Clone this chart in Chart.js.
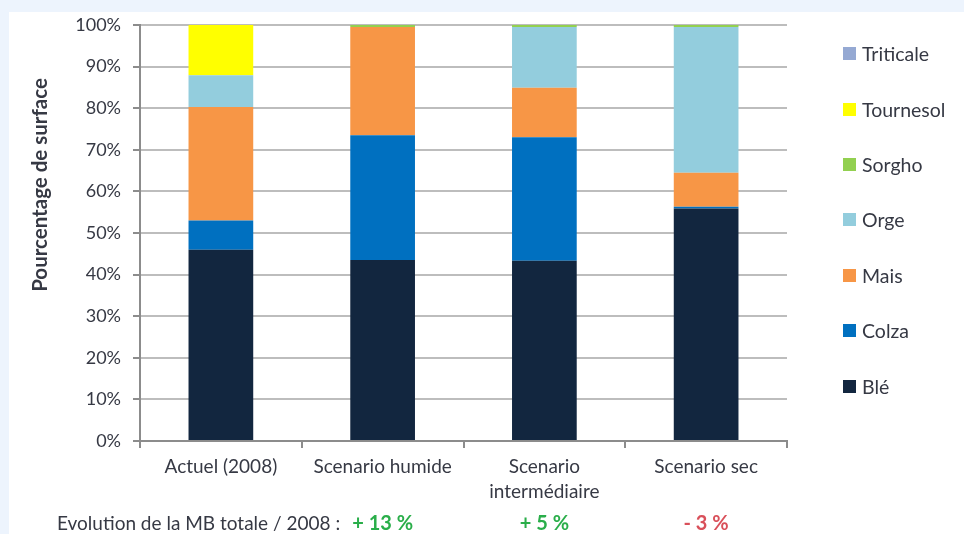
<!DOCTYPE html>
<html>
<head>
<meta charset="utf-8">
<script src="https://cdn.jsdelivr.net/npm/chart.js@4.4.0/dist/chart.umd.min.js"></script>
<style>
  body { margin: 0; background: #edf4fd; width: 964px; height: 534px; overflow: hidden; font-family: Lato, sans-serif; }
  #panel { position: absolute; left: 9px; top: 12px; width: 955px; height: 522px; background: #fff; }
  #myChart { position: absolute; left: 0; top: 0; }
  #legend { position: absolute; left: 834px; top: 14px; color: #363944; font-size: 19.5px; }
  #legend div { height: 55.4px; display: flex; align-items: center; }
  #legend span { display: inline-block; width: 13px; height: 13px; margin-right: 6px; }
</style>
</head>
<body>
<div id="panel">
  <canvas id="myChart" width="955" height="522"></canvas>
  <div id="legend"></div>
</div>
<script>
var categories = ['Actuel (2008)', 'Scenario humide', ['Scenario', 'intermédiaire'], 'Scenario sec'];

// percentage of surface per crop, one value per scenario
var ble       = [46.0, 43.5, 43.3, 55.9];
var colza     = [7.0, 30.0, 29.7, 0.4];
var mais      = [27.3, 26.0, 11.9, 8.2];
var orge      = [7.6, 0, 14.6, 35.0];
var sorgho    = [0, 0.5, 0.5, 0.5];
var tournesol = [12.1, 0, 0, 0];
var triticale = [0, 0, 0, 0];

var yTicks = [0, 10, 20, 30, 40, 50, 60, 70, 80, 90, 100];
var evolution = ['', '+ 13 %', '+ 5 %', '- 3 %'];
var evolutionColors = ['', '#2aae4a', '#2aae4a', '#d9505a'];

var textColor = '#363944';
var axisColor = '#8c8c8c';

// y title + MB evolution line under the chart
var extraText = {
  id: 'extraText',
  afterDraw: function(chart) {
    var c = chart.ctx;
    c.save();
    c.fillStyle = textColor;
    c.font = 'bold 20.5px Lato';
    c.translate(31, 173);
    c.rotate(-Math.PI / 2);
    c.textAlign = 'center';
    c.textBaseline = 'middle';
    c.fillText('Pourcentage de surface', 0, 0);
    c.restore();

    c.save();
    c.textBaseline = 'middle';
    c.font = '19px Lato';
    c.fillStyle = textColor;
    c.textAlign = 'left';
    c.fillText('Evolution de la MB totale / 2008 :', 48, 512);
    c.font = 'bold 20px Lato';
    c.textAlign = 'center';
    var xs = chart.scales.x;
    for (var i = 0; i < evolution.length; i++) {
      if (!evolution[i]) continue;
      c.fillStyle = evolutionColors[i];
      c.fillText(evolution[i], xs.getPixelForValue(i), 512);
    }
    c.restore();
  }
};

var ctx = document.getElementById('myChart').getContext('2d');
var chart = new Chart(ctx, {
  type: 'bar',
  data: {
    labels: categories,
    datasets: [
      { label: 'Blé', backgroundColor: '#12263f', data: ble },
      { label: 'Colza', backgroundColor: '#0070c0', data: colza },
      { label: 'Mais', backgroundColor: '#f79646', data: mais },
      { label: 'Orge', backgroundColor: '#93cddd', data: orge },
      { label: 'Sorgho', backgroundColor: '#92d050', data: sorgho },
      { label: 'Tournesol', backgroundColor: '#ffff00', data: tournesol },
      { label: 'Triticale', backgroundColor: '#95a9d3', data: triticale }
    ]
  },
  options: {
    responsive: false,
    animation: false,
    layout: { padding: { top: 13, right: 177, left: 0, bottom: 0 } },
    datasets: { bar: { categoryPercentage: 1, barPercentage: 0.4, borderWidth: 0 } },
    plugins: { legend: { display: false }, tooltip: { enabled: false } },
    scales: {
      x: {
        stacked: true,
        grid: { offset: true, drawOnChartArea: false, drawTicks: true, tickLength: 7, color: axisColor, lineWidth: 2 },
        border: { color: axisColor, width: 2 },
        ticks: { color: textColor, font: { family: 'Lato', size: 19, lineHeight: 1.3 }, padding: 7, maxRotation: 0, autoSkip: false },
        afterFit: function(s) { s.height = 93; s.paddingLeft = 0; s.paddingRight = 0; }
      },
      y: {
        stacked: true,
        min: 0,
        max: 100,
        afterBuildTicks: function(s) { s.ticks = yTicks.map(function(v) { return { value: v }; }); },
        ticks: { color: textColor, font: { family: 'Lato', size: 18 }, padding: 12, callback: function(v) { return v + '%'; } },
        grid: { color: '#bdbdbd', lineWidth: 2, tickLength: 7, tickColor: axisColor },
        border: { color: axisColor, width: 2 },
        afterFit: function(s) { s.width = 131; s.paddingTop = 0; s.paddingBottom = 0; }
      }
    }
  },
  plugins: [extraText]
});

// legend, top item = last dataset
var legend = document.getElementById('legend');
chart.data.datasets.slice().reverse().forEach(function(ds) {
  var row = document.createElement('div');
  row.innerHTML = '<span style="background:' + ds.backgroundColor + '"></span>' + ds.label;
  legend.appendChild(row);
});
</script>
</body>
</html>
